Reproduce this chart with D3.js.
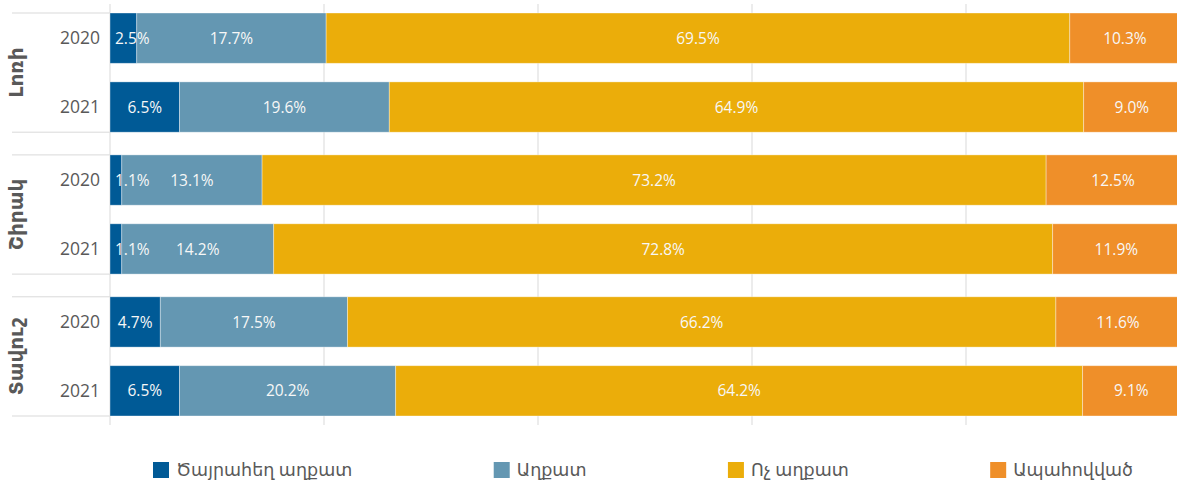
<!DOCTYPE html>
<html>
<head>
<meta charset="utf-8">
<script src="https://cdn.jsdelivr.net/npm/d3@7"></script>
<style>
  html, body { margin: 0; padding: 0; background: #fff; }
  svg { display: block; font-family: "Open Sans", "DejaVu Sans", sans-serif; }
</style>
</head>
<body>
<svg id="chart" width="1177" height="486"></svg>
<script>
// ---- data ----
const regions = ["Լոռի", "Շիրակ", "Տավուշ"];
const years = ["2020", "2021"];
const seriesNames = ["Ծայրահեղ աղքատ", "Աղքատ", "Ոչ աղքատ", "Ապահովված"];
const seriesColors = ["#005a96", "#6497b2", "#ebad0a", "#ef8f29"];
// rows: Lori2020, Lori2021, Shirak2020, Shirak2021, Tavush2020, Tavush2021
const extremePoor = [2.5, 6.5, 1.1, 1.1, 4.7, 6.5];
const poor        = [17.7, 19.6, 13.1, 14.2, 17.5, 20.2];
const nonPoor     = [69.5, 64.9, 73.2, 72.8, 66.2, 64.2];
const wellOff     = [10.3, 9.0, 12.5, 11.9, 11.6, 9.1];
const xTicks = [0, 0.2, 0.4, 0.6, 0.8, 1.0];

const keys = ["s0", "s1", "s2", "s3"];
const rows = [];
regions.forEach((r, ri) => years.forEach((y, yi) => {
  const i = ri * 2 + yi;
  rows.push({ region: r, year: y, s0: extremePoor[i], s1: poor[i], s2: nonPoor[i], s3: wellOff[i] });
}));

const svg = d3.select("#chart");
const textColor = "#595959";
const gridColor = "#d9d9d9";

const x = d3.scaleLinear().domain([0, 1]).range([110, 1180]);
const yGroup = d3.scaleBand().domain(regions).range([13, 416]).paddingInner(0.16).paddingOuter(0);
const yInner = d3.scaleBand().domain(years).range([0, yGroup.bandwidth()]).paddingInner(0.27).paddingOuter(0);

// gridlines
svg.append("g").selectAll("line").data(xTicks.slice(1)).join("line")
  .attr("x1", d => x(d)).attr("x2", d => x(d))
  .attr("y1", 4).attr("y2", 425)
  .attr("stroke", gridColor).attr("stroke-width", 1);
// axis line
svg.append("line").attr("x1", x(0)).attr("x2", x(0)).attr("y1", 4).attr("y2", 425)
  .attr("stroke", gridColor).attr("stroke-width", 1);

// group separator lines
const sepG = svg.append("g");
regions.forEach(r => {
  [yGroup(r), yGroup(r) + yGroup.bandwidth()].forEach(yy => {
    sepG.append("line").attr("x1", 12).attr("x2", x(0)).attr("y1", yy).attr("y2", yy)
      .attr("stroke", gridColor).attr("stroke-width", 1);
  });
});

// stacked
const stack = d3.stack().keys(keys).offset(d3.stackOffsetExpand);
const stacked = stack(rows);

const barY = d => yGroup(d.data.region) + yInner(d.data.year);

const layers = svg.append("g").selectAll("g").data(stacked).join("g")
  .attr("fill", (d, i) => seriesColors[i]);
layers.selectAll("rect").data(d => d).join("rect")
  .attr("x", d => x(d[0]))
  .attr("y", d => barY(d))
  .attr("width", d => x(d[1]) - x(d[0]))
  .attr("height", yInner.bandwidth())
  .attr("stroke", "rgba(255,255,255,0.45)")
  .attr("stroke-width", 0.8);

// labels
const labelG = svg.append("g");
stacked.forEach((layer, li) => {
  layer.forEach(d => {
    const val = d.data[keys[li]];
    const t = labelG.append("text")
      .attr("y", barY(d) + yInner.bandwidth() / 2)
      .attr("dy", "0.36em")
      .attr("text-anchor", "middle")
      .attr("fill", "#f7f7f7")
      .attr("font-size", 15.5)
      .text(val.toFixed(1) + "%");
    const cx = (x(d[0]) + x(d[1])) / 2;
    const w = t.node().getComputedTextLength();
    let pos = cx;
    if (cx - w / 2 < x(d[0]) + 5) pos = x(d[0]) + 5 + w / 2;
    t.attr("x", pos);
  });
});

// year labels
const yearG = svg.append("g");
rows.forEach(r => {
  yearG.append("text")
    .attr("x", 100)
    .attr("y", yGroup(r.region) + yInner(r.year) + yInner.bandwidth() / 2)
    .attr("dy", "0.36em")
    .attr("text-anchor", "end")
    .attr("fill", textColor)
    .attr("font-size", 17.5)
    .text(r.year);
});

// region labels (rotated)
regions.forEach(r => {
  const cy = yGroup(r) + yGroup.bandwidth() / 2;
  svg.append("text")
    .attr("transform", `translate(16,${cy}) rotate(-90)`)
    .attr("text-anchor", "middle")
    .attr("dy", "0.36em")
    .attr("fill", textColor)
    .attr("font-size", 20)
    .attr("font-weight", "bold")
    .text(r);
});

// legend
const legend = svg.append("g");
const items = seriesNames.map((name, i) => {
  const g = legend.append("g");
  g.append("rect").attr("x", 0).attr("y", 462).attr("width", 16).attr("height", 16).attr("fill", seriesColors[i]);
  const t = g.append("text").attr("x", 23).attr("y", 470).attr("dy", "0.36em")
    .attr("fill", textColor).attr("font-size", 17.5).text(name);
  return { g, w: 23 + t.node().getComputedTextLength() };
});
const startX = 153, endX = 1133;
const totalW = d3.sum(items, d => d.w);
const gap = (endX - startX - totalW) / (items.length - 1);
let cur = startX;
items.forEach(it => { it.g.attr("transform", `translate(${cur},0)`); cur += it.w + gap; });
</script>
</body>
</html>
